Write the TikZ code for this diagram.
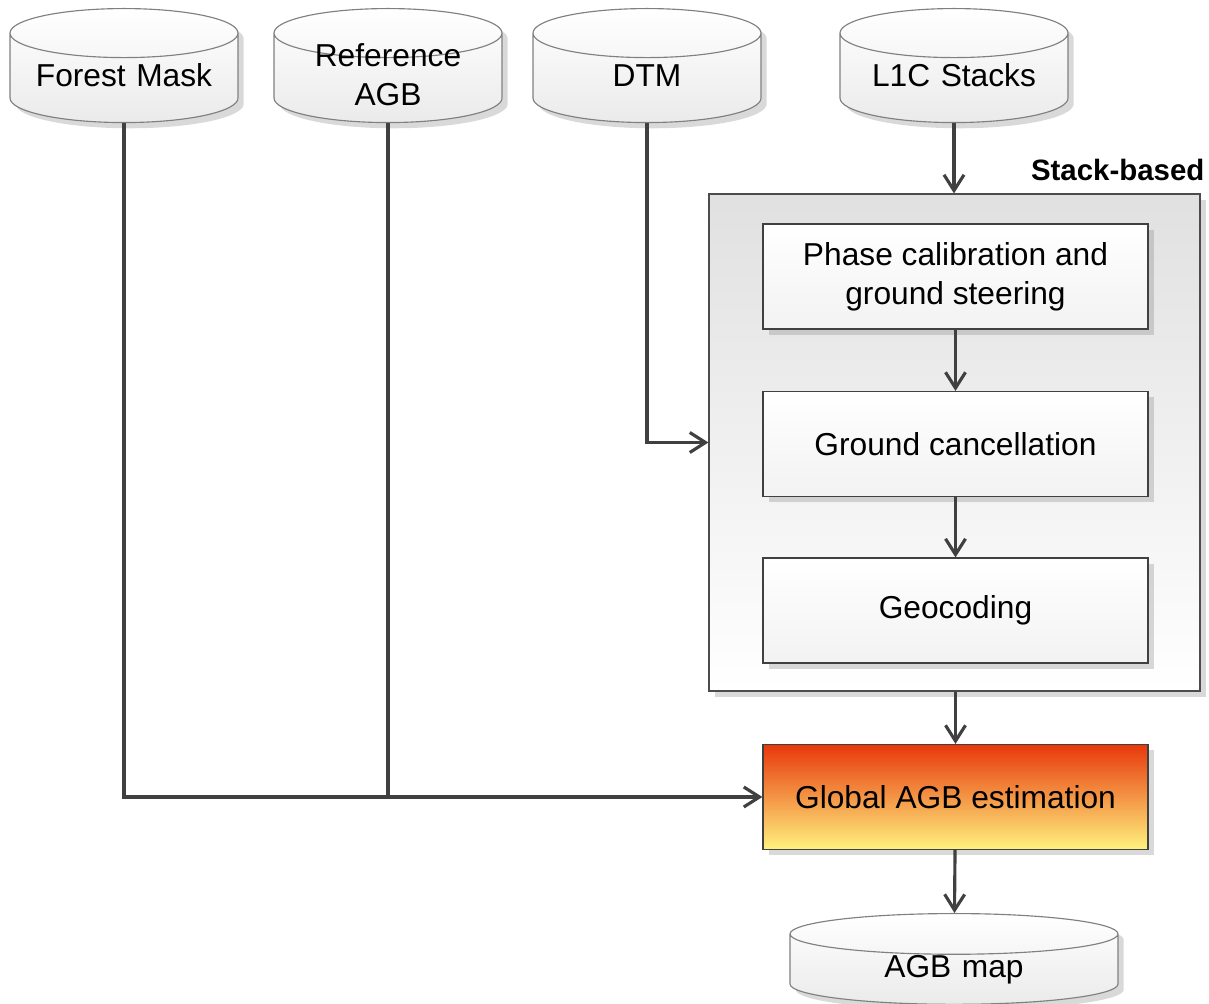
\documentclass[tikz,border=0pt]{standalone}
\usepackage{fontspec}
\setmainfont{Liberation Sans}
\usetikzlibrary{shapes.geometric,shadows,arrows.meta}
\newcommand\pu{0.35pt}
\newcommand\twolines[2]{\smash{\begin{tabular}[c]{@{}c@{}}#1\\#2\end{tabular}}}
\colorlet{linec}{black!75}
\definecolor{agbtop}{HTML}{E8380C}
\definecolor{agbmid}{HTML}{F39A3A}
\definecolor{agbbot}{HTML}{FFF27E}
\tikzstyle{flowchart} = [
  x=\pu, y=-\pu,
  font=\fontsize{11.1}{13.6}\selectfont,
]
\tikzstyle{softshadow} = [
  drop shadow={shadow xshift=2pt, shadow yshift=-2pt, opacity=0.3},
]
\tikzstyle{db} = [
  cylinder, shape border rotate=90, aspect=0.26,
  draw=black!50, softshadow,
  top color=white, bottom color=black!8,
  minimum width=228*\pu, minimum height=114*\pu,
  text width=66pt, text height=8pt, text depth=2.2pt,
  align=center, inner sep=0pt, anchor=north,
]
\tikzstyle{proc} = [
  rectangle, draw=black!75, softshadow,
  top color=white, bottom color=black!5,
  minimum width=385*\pu, minimum height=105*\pu,
  align=center,
]
\tikzstyle{stackbox} = [
  rectangle, draw=black!70, softshadow,
  top color=black!12, bottom color=white,
  minimum width=491*\pu, minimum height=497*\pu,
]
\tikzstyle{flow} = [
  draw=linec, line width=1.1pt,
  -{Straight Barb[length=5.5pt,width=7pt]},
]

\begin{document}
\begin{tikzpicture}[flowchart]
      \useasboundingbox (0,0) rectangle (1209,1004);

      % Inputs
      \node[db] (fm) at (124,8) {Forest Mask};
      \node[db] (ref) at (388,8) {\twolines{Reference}{AGB}};
      \node[db] (dtm) at (647,8) {DTM};
      \node[db] (l1c) at (954,8) {L1C Stacks};

      % Stack-based processing
      \node[stackbox] (stack) at (954.5,442.5) {};
      \node[anchor=east, inner sep=0pt, font=\fontsize{10.3}{12}\selectfont\bfseries] (stacklbl) at (1205,170) {Stack-based};
      \node[proc] (phase) at (955.5,276.5) {Phase calibration and\\ground steering};
      \node[proc] (gc) at (955.5,444) {Ground cancellation};
      \node[proc] (geo) at (955.5,610.5) {Geocoding};

      % Estimation and output
      \node[proc, top color=agbtop, middle color=agbmid, bottom color=agbbot] (agb) at (955.5,797) {Global AGB estimation};
      \node[db, aspect=0.15, text width=95pt, minimum width=328*\pu, minimum height=88*\pu] (map) at (954,913) {AGB map};

      % Connectors
      \draw[flow] (l1c.south) -- (l1c.south |- stack.north);
      \draw[flow] (phase) -- (gc);
      \draw[flow] (gc) -- (geo);
      \draw[flow] (stack.south -| agb.north) -- (agb.north);
      \draw[flow] (agb) -- (map);
      \draw[flow] (dtm.south) |- (stack.west);
      \draw[flow] (fm.south) |- (agb.west);
      \draw[flow, -] (ref.south) -- (ref.south |- agb.west);
    \end{tikzpicture}
\end{document}
